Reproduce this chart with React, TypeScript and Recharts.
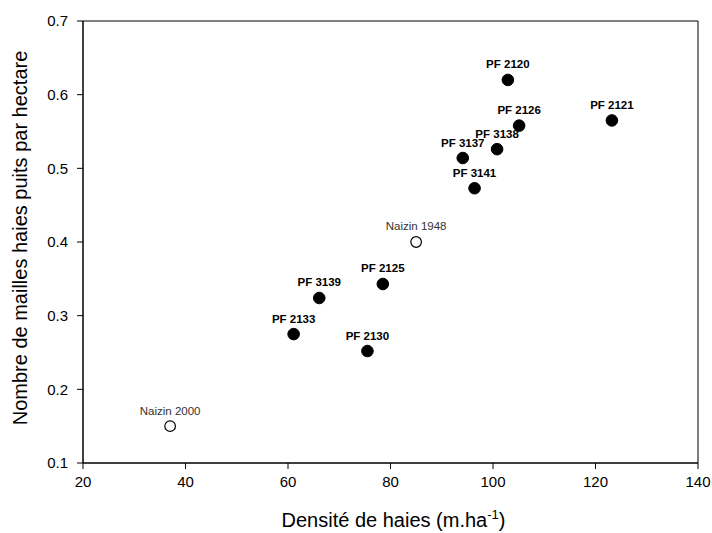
import React from "react";
import {
  ScatterChart,
  Scatter,
  XAxis,
  YAxis,
  ReferenceArea,
  LabelList,
} from "recharts";

const pfNames = ["PF 2120", "PF 2126", "PF 2121", "PF 3138", "PF 3137", "PF 3141", "PF 2125", "PF 3139", "PF 2133", "PF 2130"];
const pfDensity = [102.9, 105.1, 123.2, 100.8, 94.1, 96.4, 78.5, 66.1, 61.1, 75.5];
const pfMailles = [0.62, 0.558, 0.565, 0.526, 0.514, 0.473, 0.343, 0.324, 0.275, 0.252];

const naizinNames = ["Naizin 1948", "Naizin 2000"];
const naizinDensity = [85.0, 37.0];
const naizinMailles = [0.4, 0.15];

const xTicks = [20, 40, 60, 80, 100, 120, 140];
const yTicks = [0.1, 0.2, 0.3, 0.4, 0.5, 0.6, 0.7];

const pfData = pfNames.map((name, i) => ({ name, x: pfDensity[i], y: pfMailles[i] }));
const naizinData = naizinNames.map((name, i) => ({ name, x: naizinDensity[i], y: naizinMailles[i] }));

const FONT = "'Liberation Sans', Arial, sans-serif";

const FilledDot = (props: any) => (
  <circle cx={props.cx} cy={props.cy} r={5.8} fill="#000" stroke="#000" />
);
const OpenDot = (props: any) => (
  <circle cx={props.cx} cy={props.cy} r={5.3} fill="#fff" stroke="#000" strokeWidth={1.2} />
);

const PfLabel = (props: any) => (
  <text x={props.x + props.width / 2} y={props.y - 7} textAnchor="middle" fontSize={11.5} fontWeight="bold" fontFamily={FONT} fill="#000">
    {props.value}
  </text>
);
const NaizinLabel = (props: any) => (
  <text x={props.x + props.width / 2} y={props.y - 7} textAnchor="middle" fontSize={11.5} fontFamily={FONT} fill="#333">
    {props.value}
  </text>
);

const XTitle = (props: any) => {
  const vb = props.viewBox;
  return (
    <text x={vb.x + vb.width / 2 + 3} y={527} textAnchor="middle" fontSize={20} fontFamily={FONT} fill="#000">
      Densité de haies (m.ha
      <tspan dy={-8} fontSize={13}>-1</tspan>
      <tspan dy={8}>)</tspan>
    </text>
  );
};

const YTitle = (props: any) => {
  const vb = props.viewBox;
  const cy = vb.y + vb.height / 2 - 4;
  return (
    <text x={27} y={cy} transform={`rotate(-90 27 ${cy})`} textAnchor="middle" fontSize={20} fontFamily={FONT} fill="#000">
      Nombre de mailles haies puits par hectare
    </text>
  );
};

export default function App() {
  return (
    <div style={{ position: "absolute", top: 0, left: 0, background: "#fff" }}>
      <ScatterChart width={712} height={533} margin={{ top: 21, right: 14, left: 0, bottom: 0 }}>
        <XAxis
          type="number"
          dataKey="x"
          domain={[20, 140]}
          ticks={xTicks}
          height={70}
          tickSize={6}
          tickMargin={7}
          stroke="#000"
          tick={{ fill: "#000", fontSize: 15, fontFamily: FONT }}
          label={<XTitle />}
        />
        <YAxis
          type="number"
          dataKey="y"
          domain={[0.1, 0.7]}
          ticks={yTicks}
          width={83}
          tickSize={6}
          tickMargin={9}
          stroke="#000"
          tickFormatter={(v: number) => v.toFixed(1)}
          tick={{ fill: "#000", fontSize: 15, fontFamily: FONT }}
          label={<YTitle />}
        />
        <ReferenceArea x1={20} x2={140} y1={0.1} y2={0.7} fill="none" stroke="#000" strokeWidth={1} ifOverflow="visible" />
        <Scatter data={pfData} shape={<FilledDot />} isAnimationActive={false}>
          <LabelList dataKey="name" content={<PfLabel />} />
        </Scatter>
        <Scatter data={naizinData} shape={<OpenDot />} isAnimationActive={false}>
          <LabelList dataKey="name" content={<NaizinLabel />} />
        </Scatter>
      </ScatterChart>
    </div>
  );
}
